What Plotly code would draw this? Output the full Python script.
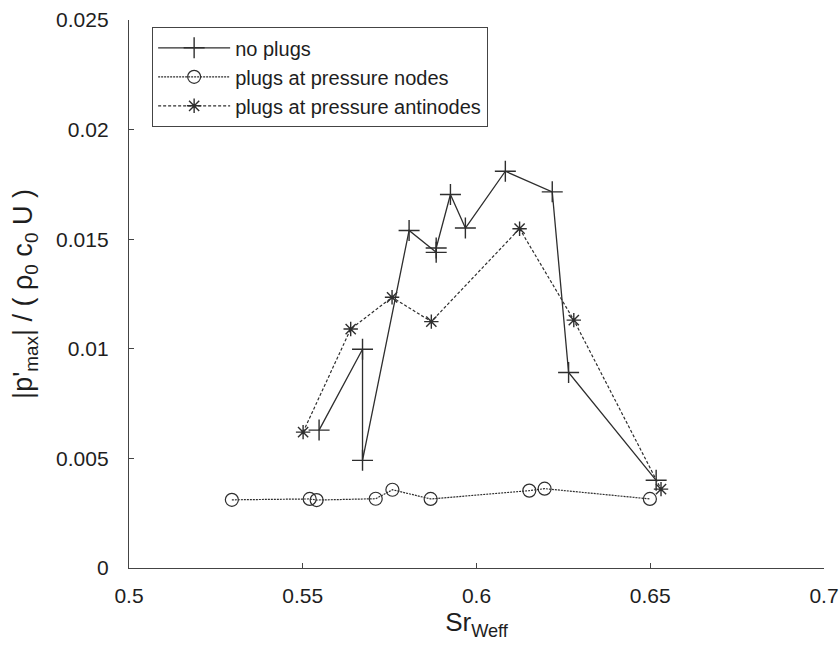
import plotly.graph_objects as go

# no plugs
x_noplug = [0.5547, 0.5672, 0.5672, 0.5806, 0.5884, 0.5884, 0.5925, 0.5968, 0.6083, 0.6218, 0.6265, 0.6517]
y_noplug = [0.00629, 0.00998, 0.00491, 0.0154, 0.0144, 0.0146, 0.01704, 0.01551, 0.0181, 0.01716, 0.00892, 0.0040]

# plugs at pressure nodes
x_nodes = [0.5296, 0.552, 0.554, 0.571, 0.5758, 0.5868, 0.6152, 0.6196, 0.6499]
y_nodes = [0.00311, 0.00315, 0.00310, 0.00316, 0.00357, 0.00315, 0.00353, 0.00362, 0.00315]

# plugs at pressure antinodes
x_anti = [0.5501, 0.5638, 0.5757, 0.587, 0.6124, 0.628, 0.6531]
y_anti = [0.0062, 0.0109, 0.01235, 0.01124, 0.01548, 0.01131, 0.0036]

LC = "#2e2e2e"
fig = go.Figure()
fig.add_trace(go.Scatter(
    x=x_noplug, y=y_noplug, mode="lines+markers", name="no plugs",
    line=dict(color=LC, width=1.3),
    marker=dict(symbol="cross-thin-open", size=15, line=dict(color=LC, width=1.4), color=LC)))
fig.add_trace(go.Scatter(
    x=x_nodes, y=y_nodes, mode="lines+markers", name="plugs at pressure nodes",
    line=dict(color=LC, width=1.2, dash="2px,1px"),
    marker=dict(symbol="circle-open", size=13, line=dict(color=LC, width=1.2), color=LC)))
fig.add_trace(go.Scatter(
    x=x_anti, y=y_anti, mode="lines+markers", name="plugs at pressure antinodes",
    line=dict(color=LC, width=1.2, dash="3px,2px"),
    marker=dict(symbol="asterisk-open", size=12, line=dict(color=LC, width=1.4), color=LC)))

font = "Liberation Sans, Arial, sans-serif"
fig.update_layout(
    width=839, height=648,
    margin=dict(l=129, r=15, t=20, b=80),
    paper_bgcolor="white", plot_bgcolor="white",
    font=dict(family=font, size=20, color="#1e1e1e"),
    showlegend=True,
    legend=dict(x=0.033, y=0.987, xanchor="left", yanchor="top",
                bordercolor="#444444", borderwidth=1.2, bgcolor="white",
                font=dict(size=20, family=font), tracegroupgap=0, itemwidth=72),
    xaxis=dict(range=[0.5, 0.7], dtick=0.05, tick0=0.5, showgrid=False, zeroline=False,
               showline=True, linecolor="#444444", linewidth=1.3, mirror=False,
               ticks="inside", ticklen=5, tickcolor="#444444",
               tickfont=dict(size=21), ticklabelstandoff=9, automargin=False,
               title=dict(text="Sr<sub>Weff</sub>", font=dict(size=26), standoff=6)),
    yaxis=dict(range=[0, 0.025], dtick=0.005, tick0=0, showgrid=False, zeroline=False,
               showline=True, linecolor="#444444", linewidth=1.3, mirror=False,
               ticks="inside", ticklen=5, tickcolor="#444444",
               tickfont=dict(size=21), ticklabelstandoff=15, automargin=False,
               title=dict(text="|p'<sub>max</sub>| / ( ρ<sub>0</sub> c<sub>0</sub> U )",
                          font=dict(size=27), standoff=15)),
)
fig.write_html("out.html")
